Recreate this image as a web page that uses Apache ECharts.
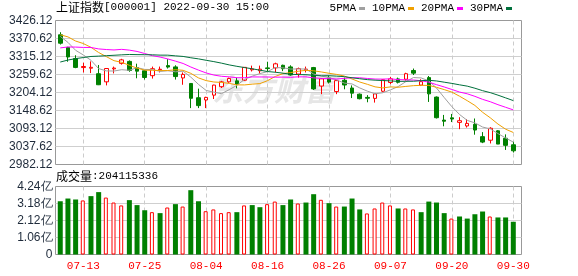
<!DOCTYPE html>
<html><head><meta charset="utf-8">
<script src="https://cdn.jsdelivr.net/npm/echarts@6/dist/echarts.min.js"></script>
<style>html,body{margin:0;padding:0;background:#fff}#c{width:578px;height:276px}</style>
</head><body><div id="c"></div>
<script>
const dates = ['07-08','07-11','07-12','07-13','07-14','07-15','07-18','07-19','07-20','07-21','07-22','07-25','07-26','07-27','07-28','07-29','08-01','08-02','08-03','08-04','08-05','08-08','08-09','08-10','08-11','08-12','08-15','08-16','08-17','08-18','08-19','08-22','08-23','08-24','08-25','08-26','08-29','08-30','08-31','09-01','09-02','09-05','09-06','09-07','09-08','09-09','09-13','09-14','09-15','09-16','09-19','09-20','09-21','09-22','09-23','09-26','09-27','09-28','09-29','09-30'];
const opens = [3382,3343,3309,3281,3279,3262,3237,3277,3294,3300,
  3281,3271,3256,3274,3287,3283,3249,3232,3188,3181,
  3196,3222,3237,3240,3242,3274,3271,3280,3280,3288,
  3283,3261,3274,3281,3224,3249,3207,3242,3218,3199,
  3189,3186,3208,3235,3246,3245,3272,3227,3250,3190,
  3119,3126,3112,3101,3106,3068,3057,3086,3063,3043];
const closes = [3356.08,3313.58,3281.47,3284.29,3281.74,3228.06,3278.10,3279.43,3304.72,3272.00,
  3269.97,3250.39,3277.44,3275.76,3282.58,3253.24,3259.96,3186.27,3163.67,3189.04,
  3227.03,3236.93,3247.43,3230.02,3281.67,3276.89,3276.09,3277.88,3292.53,3277.54,
  3258.08,3277.79,3276.22,3215.20,3246.25,3236.22,3240.73,3227.22,3202.14,3184.98,
  3186.48,3199.91,3243.45,3246.29,3235.59,3262.05,3263.80,3237.54,3199.92,3126.40,
  3115.60,3122.41,3117.18,3108.91,3088.37,3051.23,3093.86,3045.07,3041.20,3024.39];
const lows = [3352,3299,3279,3266,3264,3227,3226,3263,3290,3268,
  3248,3244,3247,3266,3278,3244,3228,3156,3156,3156,
  3184,3218,3234,3217,3240,3269,3262,3270,3266,3270,
  3256,3250,3266,3212,3199,3232,3199,3214,3187,3183,
  3174,3173,3205,3230,3232,3241,3258,3224,3175,3124,
  3100,3113,3091,3096,3074,3048,3047,3045,3027,3019];
const highs = [3390,3345,3319,3296,3300,3289,3279,3284,3308,3303,
  3293,3273,3284,3284,3307,3288,3266,3233,3216,3191,
  3228,3240,3250,3250,3282,3287,3287,3299,3296,3290,
  3288,3281,3284,3283,3248,3256,3242,3250,3226,3201,
  3196,3200,3245,3252,3250,3265,3278,3245,3255,3192,
  3135,3138,3128,3122,3124,3082,3097,3088,3075,3052];
// volume in 亿
const volumes = [3.32,3.49,3.43,3.37,3.64,3.89,3.55,3.24,3.06,3.39,
  3.08,2.76,2.64,2.58,2.93,3.14,2.99,4.01,3.32,2.70,
  2.81,2.58,2.64,2.64,3.06,3.08,2.95,3.14,3.30,3.08,
  3.43,3.18,3.24,3.76,3.41,3.20,2.99,2.99,3.49,2.81,
  2.56,2.87,3.24,3.06,2.87,2.87,2.81,2.64,3.30,3.24,
  2.58,2.24,2.37,2.24,2.51,2.68,2.37,2.31,2.31,2.04115336];
// closes of the 29 sessions before 07-08 (for moving averages)
const earlierCloses = [3130.24,3149.06,3186.43,3182.16,3195.46,3236.37,3241.76,3263.79,3238.95,3284.83,
  3255.55,3288.91,3305.41,3285.38,3316.79,3315.43,3306.72,3267.20,3320.15,3349.75,
  3379.19,3409.21,3361.52,3398.62,3387.64,3405.43,3404.03,3355.35,3364.40];
const maPeriods = [5, 10, 20, 30];
const maNames = ['5PMA', '10PMA', '20PMA', '30PMA'];
const maColors = ['#a0a0a0', '#f0a000', '#ff00ff', '#00703c'];
const priceMin = 2982.12, priceMax = 3426.12, priceStep = 55.5;
const volMax = 4.24, volStep = 1.06;
const headerName = '上证指数';
const headerRest = '[000001] 2022-09-30 15:00';
const volTitle = '成交量';
const lastVolume = '204115336';

const allCloses = earlierCloses.concat(closes);
function ma(n) {
  return closes.map((c, i) => {
    const k = i + earlierCloses.length;
    let s = 0;
    for (let j = k - n + 1; j <= k; j++) s += allCloses[j];
    return +(s / n).toFixed(2);
  });
}
const candleData = dates.map((d, i) => [opens[i], closes[i], lows[i], highs[i]]);
const volUp = [], volDown = [];
volumes.forEach((v, i) => {
  const prev = i === 0 ? earlierCloses[earlierCloses.length - 1] : closes[i - 1];
  if (closes[i] > prev) { volUp.push(v); volDown.push('-'); }
  else { volUp.push('-'); volDown.push(v); }
});

const labelEvery = (idx) => idx >= 3 && (idx - 3) % 8 === 0;
const frameL = 55.5, frameW = 466;
const dataL = 60.26, dataW = 453.04;
const mainTop = 20.5, mainH = 144;
const volTop = 186.5, volH = 68;
const gridLineColor = '#cfcfcf';
const labelColor = '#1e2a3a';

const chart = echarts.init(document.getElementById('c'), null, {renderer: 'canvas'});
const dashedSplit = {show: true, interval: labelEvery, lineStyle: {color: '#cccccc', type: [4, 3], width: 1}};
const richTitle = {
  a: {fontFamily: 'Noto Sans CJK SC', fontSize: 12, color: '#000', fontWeight: 'normal'},
  b: {fontFamily: 'Liberation Mono', fontSize: 11, color: '#000', fontWeight: 'normal'}
};
chart.setOption({
  animation: false,
  backgroundColor: '#fff',
  title: [
    {text: '{a|' + headerName + '}{b|' + headerRest + '}', left: 56, top: 1, padding: 0,
      textStyle: {fontWeight: 'normal', rich: richTitle}},
    {text: '{a|' + volTitle + '}{b|:' + lastVolume + '}', left: 56, top: 170, padding: 0,
      textStyle: {fontWeight: 'normal', rich: richTitle}}
  ],
  legend: {
    right: 66, top: 3, align: 'right', itemGap: 7, itemWidth: 6, itemHeight: 3, icon: 'rect',
    padding: 0,
    textStyle: {fontFamily: 'Liberation Mono', fontSize: 11, color: '#000', padding: [0, -2, 0, 0]},
    data: maNames
  },
  grid: [
    {left: frameL, top: mainTop, width: frameW, height: mainH, show: true, borderColor: '#999', borderWidth: 1, backgroundColor: 'transparent'},
    {left: dataL, top: mainTop, width: dataW, height: mainH, show: false},
    {left: frameL, top: volTop, width: frameW, height: volH, show: true, borderColor: '#999', borderWidth: 1, backgroundColor: 'transparent'},
    {left: dataL, top: volTop, width: dataW, height: volH, show: false}
  ],
  xAxis: [
    {type: 'value', gridIndex: 0, show: false, min: 0, max: 1},
    {type: 'category', gridIndex: 1, data: dates, boundaryGap: false,
      axisLine: {show: false}, axisTick: {show: false}, axisLabel: {show: false}, splitLine: dashedSplit},
    {type: 'value', gridIndex: 2, show: false, min: 0, max: 1},
    {type: 'category', gridIndex: 3, data: dates, boundaryGap: false,
      axisLine: {show: false}, axisTick: {show: false},
      axisLabel: {show: true, interval: labelEvery, color: '#ff0000', fontFamily: 'Liberation Mono', fontSize: 11, margin: 6},
      splitLine: dashedSplit}
  ],
  yAxis: [
    {type: 'value', gridIndex: 0, min: priceMin, max: priceMax, interval: priceStep,
      axisLine: {show: false}, axisTick: {show: false},
      axisLabel: {color: labelColor, fontFamily: 'Liberation Sans', fontSize: 12, margin: 3, formatter: v => v.toFixed(2)},
      splitLine: {show: true, showMinLine: false, showMaxLine: false, lineStyle: {color: gridLineColor, width: 1}}},
    {type: 'value', gridIndex: 1, min: priceMin, max: priceMax, show: false, splitLine: {show: false}},
    {type: 'value', gridIndex: 2, min: 0, max: volMax, interval: volStep,
      axisLine: {show: false}, axisTick: {show: false},
      axisLabel: {color: labelColor, fontFamily: 'Liberation Sans', fontSize: 12, margin: 3,
        formatter: v => v === 0 ? '0' : v.toFixed(2) + '亿'},
      splitLine: {show: true, showMinLine: false, showMaxLine: false, lineStyle: {color: gridLineColor, width: 1}}},
    {type: 'value', gridIndex: 3, min: 0, max: volMax, show: false, splitLine: {show: false}}
  ],
  graphic: [{
    type: 'text', left: 212, top: 74, z: -1, silent: true,
    style: {text: '东方财富', fill: '#e6e6e6', font: 'italic bold 31px "Noto Sans CJK SC"'}
  }],
  series: [
    {type: 'candlestick', name: 'K', xAxisIndex: 1, yAxisIndex: 1, data: candleData, barWidth: 4, clip: false,
      itemStyle: {color: '#ffffff', color0: '#008000', borderColor: '#ff0000', borderColor0: '#008000', borderWidth: 1}},
    ...maPeriods.map((p, k) => ({
      type: 'line', name: maNames[k], xAxisIndex: 1, yAxisIndex: 1, data: ma(p), symbol: 'none', clip: false,
      lineStyle: {color: maColors[k], width: 1}, itemStyle: {color: maColors[k]}, z: 3
    })),
    {type: 'bar', name: 'volUp', xAxisIndex: 3, yAxisIndex: 3, data: volUp, barWidth: 4, barGap: '-100%', clip: false,
      itemStyle: {color: '#ffffff', borderColor: '#ff0000', borderWidth: 1}},
    {type: 'bar', name: 'volDown', xAxisIndex: 3, yAxisIndex: 3, data: volDown, barWidth: 5, barGap: '-100%', clip: false,
      itemStyle: {color: '#008000'}}
  ]
});
</script>
</body></html>
